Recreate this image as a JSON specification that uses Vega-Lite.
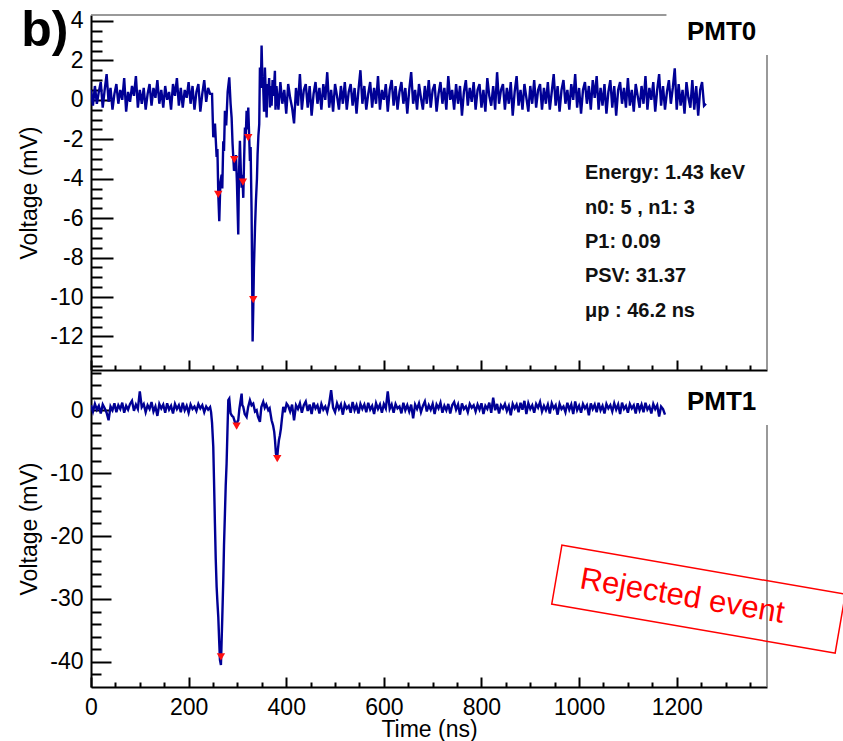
{
"$schema": "https://vega.github.io/schema/vega-lite/v6.json",
"padding": {"left": 18, "top": 5, "right": 0, "bottom": 0},
"background": "white",
"config": {
  "view": {"stroke": null},
  "font": "Liberation Sans",
  "axis": {"labelFont": "Liberation Sans", "titleFont": "Liberation Sans", "labelFontSize": 23, "titleFontSize": 23, "titleFontWeight": "normal", "labelColor": "black", "titleColor": "black", "domainColor": "black", "domainWidth": 2, "tickColor": "black", "tickWidth": 2, "grid": false, "labelOverlap": false, "labelFlush": false, "tickCount": 200}
},
"spacing": 0,
"bounds": "flush",
"datasets": {
  "pmt0": [
{"t":0,"v":0.5},{"t":4,"v":-0.3},{"t":8,"v":0.7},{"t":12,"v":-0.2},{"t":16,"v":0.4},{"t":20,"v":0.9},{"t":24,"v":-0.4},{"t":28,"v":0.5},{"t":32,"v":1.3},{"t":36,"v":-0.1},
{"t":40,"v":0.6},{"t":44,"v":-0.5},{"t":48,"v":0.3},{"t":52,"v":0.8},{"t":56,"v":-0.2},{"t":60,"v":0.5},{"t":64,"v":0.0},{"t":68,"v":1.1},{"t":72,"v":-0.6},{"t":76,"v":0.4},
{"t":80,"v":-0.1},{"t":84,"v":0.7},{"t":88,"v":0.2},{"t":92,"v":1.2},{"t":96,"v":-0.4},{"t":100,"v":0.5},{"t":104,"v":-0.2},{"t":108,"v":0.6},{"t":112,"v":-0.5},{"t":116,"v":0.3},
{"t":120,"v":0.8},{"t":124,"v":-0.3},{"t":128,"v":0.6},{"t":132,"v":0.1},{"t":136,"v":1.0},{"t":140,"v":-0.2},{"t":144,"v":0.5},{"t":148,"v":-0.4},{"t":152,"v":0.7},{"t":156,"v":0.0},
{"t":160,"v":0.4},{"t":164,"v":-0.5},{"t":168,"v":0.8},{"t":172,"v":0.2},{"t":176,"v":1.1},{"t":180,"v":-0.3},{"t":184,"v":0.6},{"t":188,"v":-0.4},{"t":192,"v":0.5},{"t":196,"v":0.1},
{"t":200,"v":0.9},{"t":204,"v":-0.2},{"t":208,"v":0.7},{"t":212,"v":-0.5},{"t":216,"v":0.4},{"t":220,"v":0.8},{"t":224,"v":-0.6},{"t":228,"v":0.3},{"t":232,"v":1.0},{"t":236,"v":-0.1},
{"t":240,"v":0.6},{"t":244,"v":0.3},
{"t":248,"v":0.3},{"t":250.5,"v":-1.9},{"t":254,"v":-1.2},{"t":257.4,"v":-2.9},{"t":259,"v":-2.5},{"t":260.8,"v":-4.8},{"t":262.8,"v":-6.15},{"t":265,"v":-4.2},{"t":267.6,"v":-3.8},{"t":269,"v":-4.5},{"t":271,"v":-2.1},{"t":272.5,"v":-2.6},{"t":274.4,"v":-0.56},{"t":277,"v":-1.3},{"t":280,"v":0.4},{"t":283.3,"v":1.14},{"t":286,"v":-0.2},{"t":288.1,"v":-0.9},{"t":290,"v":-2.2},{"t":291.5,"v":-2.9},{"t":293,"v":-3.6},{"t":294.9,"v":-3.44},{"t":297,"v":-2.8},{"t":299,"v":-4.2},{"t":301.7,"v":-6.83},{"t":303,"v":-4.0},{"t":305.1,"v":-2.08},{"t":307,"v":-3.6},{"t":308.6,"v":-4.46},{"t":310,"v":-3.8},{"t":312,"v":-4.97},{"t":313.5,"v":-3.2},{"t":315.4,"v":-1.41},{"t":317,"v":-1.9},{"t":318.8,"v":-0.56},{"t":320.5,"v":-1.5},{"t":322.2,"v":-0.39},{"t":324,"v":-1.8},{"t":325.6,"v":-3.1},{"t":327,"v":-2.4},{"t":329,"v":-5.64},{"t":330.2,"v":-9.0},{"t":331.1,"v":-12.25},{"t":332.5,"v":-10.5},{"t":333.8,"v":-8.52},{"t":336,"v":-6.5},{"t":337.9,"v":-5.13},{"t":340,"v":-4.0},{"t":341.3,"v":-2.76},{"t":343,"v":-1.8},{"t":344.7,"v":-1.24},{"t":346.1,"v":1.64},{"t":348,"v":0.6},{"t":349.5,"v":2.75},{"t":351,"v":1.2},{"t":352.9,"v":0.63},{"t":354.5,"v":-0.6},{"t":356.3,"v":1.64},{"t":358,"v":0.4},{"t":359.8,"v":-0.9},{"t":361.5,"v":0.8},{"t":363.2,"v":0.29},{"t":365,"v":1.1},{"t":366.6,"v":-0.39},{"t":368.5,"v":0.7},{"t":370,"v":-0.3},{"t":372,"v":1.0},{"t":374,"v":0.2},{"t":376.8,"v":1.47},{"t":378,"v":-0.5},
{"t":380,"v":0.7},{"t":384,"v":-0.5},{"t":388,"v":0.9},{"t":392,"v":-0.2},{"t":396,"v":0.5},{"t":400,"v":-0.7},{"t":404,"v":0.8},{"t":408,"v":0.1},{"t":412,"v":-0.4},{"t":416,"v":-1.2},
{"t":420,"v":0.6},{"t":424,"v":-0.3},{"t":428,"v":1.3},{"t":432,"v":-0.5},{"t":436,"v":0.5},{"t":440,"v":0.8},{"t":444,"v":-0.4},{"t":448,"v":0.7},{"t":452,"v":-0.8},{"t":456,"v":0.3},
{"t":460,"v":0.9},{"t":464,"v":-0.2},{"t":468,"v":0.6},{"t":472,"v":-0.5},{"t":476,"v":0.8},{"t":480,"v":0.0},{"t":484,"v":1.4},{"t":488,"v":-0.4},{"t":492,"v":0.5},{"t":496,"v":-0.6},
{"t":500,"v":0.8},{"t":504,"v":0.2},{"t":508,"v":-0.5},{"t":512,"v":0.7},{"t":516,"v":-0.2},{"t":520,"v":0.9},{"t":524,"v":-0.5},{"t":528,"v":0.4},{"t":532,"v":0.8},{"t":536,"v":-0.3},
{"t":540,"v":0.6},{"t":544,"v":-0.7},{"t":548,"v":0.5},{"t":552,"v":1.5},{"t":556,"v":-0.2},{"t":560,"v":0.7},{"t":564,"v":-0.5},{"t":568,"v":0.3},{"t":572,"v":0.9},{"t":576,"v":-0.4},
{"t":580,"v":0.6},{"t":584,"v":-0.2},{"t":588,"v":1.2},{"t":592,"v":-0.5},{"t":596,"v":0.5},{"t":600,"v":0.0},{"t":604,"v":0.8},{"t":608,"v":-0.6},{"t":612,"v":0.5},{"t":616,"v":1.0},
{"t":620,"v":-0.3},{"t":624,"v":0.7},{"t":628,"v":-0.5},{"t":632,"v":0.4},{"t":636,"v":0.9},{"t":640,"v":-0.2},{"t":644,"v":0.6},{"t":648,"v":-0.7},{"t":652,"v":0.5},{"t":656,"v":1.4},
{"t":660,"v":-0.2},{"t":664,"v":0.5},{"t":668,"v":-0.5},{"t":672,"v":0.8},{"t":676,"v":0.1},{"t":680,"v":-0.5},{"t":684,"v":0.7},{"t":688,"v":-0.2},{"t":692,"v":1.0},{"t":696,"v":-0.4},
{"t":700,"v":0.5},{"t":704,"v":0.8},{"t":708,"v":-0.6},{"t":712,"v":0.3},{"t":716,"v":0.9},{"t":720,"v":-0.2},{"t":724,"v":0.6},{"t":728,"v":-0.5},{"t":732,"v":1.2},{"t":736,"v":0.0},
{"t":740,"v":0.5},{"t":744,"v":-0.5},{"t":748,"v":0.8},{"t":752,"v":-0.2},{"t":756,"v":0.7},{"t":760,"v":-0.8},{"t":764,"v":0.4},{"t":768,"v":1.0},{"t":772,"v":-0.3},{"t":776,"v":0.6},
{"t":780,"v":-0.1},{"t":784,"v":0.9},{"t":788,"v":-0.5},{"t":792,"v":0.5},{"t":796,"v":0.8},{"t":800,"v":-0.4},{"t":804,"v":0.5},{"t":808,"v":-0.6},{"t":812,"v":1.1},{"t":816,"v":0.2},
{"t":820,"v":-0.3},{"t":824,"v":0.7},{"t":828,"v":-0.5},{"t":832,"v":1.4},{"t":836,"v":-0.2},{"t":840,"v":0.5},{"t":844,"v":0.8},{"t":848,"v":-0.5},{"t":852,"v":0.6},{"t":856,"v":-0.2},
{"t":860,"v":0.9},{"t":864,"v":-0.8},{"t":868,"v":0.4},{"t":872,"v":1.2},{"t":876,"v":-0.3},{"t":880,"v":0.5},{"t":884,"v":-0.5},{"t":888,"v":0.8},{"t":892,"v":0.1},{"t":896,"v":-0.6},
{"t":900,"v":0.7},{"t":904,"v":-0.2},{"t":908,"v":1.0},{"t":912,"v":-0.4},{"t":916,"v":0.5},{"t":920,"v":0.8},{"t":924,"v":-0.5},{"t":928,"v":0.6},{"t":932,"v":-0.2},{"t":936,"v":0.9},
{"t":940,"v":-0.5},{"t":944,"v":0.4},{"t":948,"v":1.3},{"t":952,"v":-0.3},{"t":956,"v":0.7},{"t":960,"v":-0.6},{"t":964,"v":0.5},{"t":968,"v":1.0},{"t":972,"v":-0.2},{"t":976,"v":0.5},
{"t":980,"v":-0.5},{"t":984,"v":0.8},{"t":988,"v":0.0},{"t":992,"v":1.3},{"t":996,"v":-0.4},{"t":1000,"v":0.6},{"t":1004,"v":-0.7},{"t":1008,"v":0.5},{"t":1012,"v":0.9},{"t":1016,"v":-0.2},
{"t":1020,"v":0.7},{"t":1024,"v":-0.5},{"t":1028,"v":1.0},{"t":1032,"v":0.1},{"t":1036,"v":1.2},{"t":1040,"v":-0.5},{"t":1044,"v":0.6},{"t":1048,"v":-0.3},{"t":1052,"v":0.8},{"t":1056,"v":-0.7},
{"t":1060,"v":0.4},{"t":1064,"v":1.0},{"t":1068,"v":-0.4},{"t":1072,"v":0.7},{"t":1076,"v":-0.8},{"t":1080,"v":0.5},{"t":1084,"v":0.9},{"t":1088,"v":-0.2},{"t":1092,"v":0.6},{"t":1096,"v":-0.4},
{"t":1100,"v":1.1},{"t":1104,"v":-0.3},{"t":1108,"v":0.5},{"t":1112,"v":-0.6},{"t":1116,"v":0.8},{"t":1120,"v":0.2},{"t":1124,"v":-0.4},{"t":1128,"v":0.7},{"t":1132,"v":-0.2},{"t":1136,"v":1.2},
{"t":1140,"v":-0.5},{"t":1144,"v":0.6},{"t":1148,"v":0.0},{"t":1152,"v":0.9},{"t":1156,"v":-0.6},{"t":1160,"v":0.5},{"t":1164,"v":1.3},{"t":1168,"v":-0.3},{"t":1172,"v":0.7},{"t":1176,"v":-0.5},
{"t":1180,"v":0.4},{"t":1184,"v":1.0},{"t":1188,"v":-0.2},{"t":1192,"v":0.6},{"t":1196,"v":1.6},{"t":1200,"v":-0.5},{"t":1204,"v":0.8},{"t":1208,"v":-0.3},{"t":1212,"v":0.5},{"t":1216,"v":-0.7},
{"t":1220,"v":0.9},{"t":1224,"v":0.1},{"t":1228,"v":-0.4},{"t":1232,"v":1.0},{"t":1236,"v":-0.5},{"t":1240,"v":0.7},{"t":1244,"v":-0.8},{"t":1248,"v":0.5},{"t":1252,"v":0.9},{"t":1256,"v":-0.3},
{"t":1260,"v":-0.2}
  ],
  "pmt1": [
{"t":0,"v":0.8},{"t":4,"v":-0.2},{"t":8,"v":1.0},{"t":12,"v":0.1},{"t":16,"v":0.7},{"t":20,"v":-0.5},{"t":24,"v":0.9},{"t":28,"v":0.3},{"t":32,"v":-0.4},{"t":36,"v":-1.6},
{"t":40,"v":0.6},{"t":44,"v":0.0},{"t":48,"v":1.1},{"t":52,"v":-0.3},{"t":56,"v":0.8},{"t":60,"v":0.2},{"t":64,"v":1.2},{"t":68,"v":-0.4},{"t":72,"v":0.7},{"t":76,"v":0.1},
{"t":80,"v":1.0},{"t":84,"v":1.5},{"t":88,"v":-0.1},{"t":92,"v":0.9},{"t":96,"v":0.2},{"t":100,"v":3.0},{"t":104,"v":0.5},{"t":108,"v":1.0},{"t":112,"v":-0.3},{"t":116,"v":0.8},
{"t":120,"v":0.2},{"t":124,"v":1.3},{"t":128,"v":-0.2},{"t":132,"v":0.6},{"t":136,"v":-0.9},{"t":140,"v":1.0},{"t":144,"v":0.3},{"t":148,"v":0.9},{"t":152,"v":-0.4},{"t":156,"v":1.1},
{"t":160,"v":0.1},{"t":164,"v":0.7},{"t":168,"v":-0.5},{"t":172,"v":1.0},{"t":176,"v":0.2},{"t":180,"v":0.8},{"t":184,"v":-0.3},{"t":188,"v":1.2},{"t":192,"v":0.0},{"t":196,"v":0.7},
{"t":200,"v":-0.4},{"t":204,"v":0.9},{"t":208,"v":0.2},{"t":212,"v":0.6},{"t":216,"v":-0.1},{"t":220,"v":1.0},{"t":224,"v":0.3},{"t":228,"v":0.8},{"t":232,"v":-0.3},{"t":236,"v":0.6},
{"t":240,"v":0.1},{"t":244,"v":0.5},
{"t":246,"v":-0.3},{"t":248,"v":-2.0},{"t":250.5,"v":-5.8},{"t":252,"v":-11.0},{"t":253.9,"v":-18.0},{"t":255.5,"v":-23.5},{"t":257.4,"v":-28.1},{"t":259,"v":-30.5},{"t":260.8,"v":-32.9},{"t":262.5,"v":-36.5},{"t":264.2,"v":-39.7},{"t":266.2,"v":-40.5},{"t":267.5,"v":-37.0},{"t":269,"v":-32.9},{"t":271,"v":-27.0},{"t":272.5,"v":-21.5},{"t":274.4,"v":-16.4},{"t":276,"v":-12.0},{"t":277.8,"v":-8.5},{"t":279.5,"v":-3.5},{"t":281.3,"v":1.6},{"t":283.3,"v":1.85},{"t":286,"v":-0.5},{"t":289,"v":-0.9},{"t":291.5,"v":-1.06},{"t":295,"v":-1.9},{"t":298.3,"v":-2.38},{"t":300,"v":-1.8},{"t":301.7,"v":-1.59},{"t":304,"v":0.2},{"t":306,"v":1.3},{"t":308.6,"v":2.65},{"t":310,"v":0.8},{"t":312,"v":0.53},{"t":315,"v":-0.6},{"t":318.8,"v":-1.06},{"t":322,"v":0.5},{"t":325.6,"v":1.59},{"t":329,"v":0.8},{"t":332.4,"v":1.06},{"t":336,"v":-0.2},{"t":339.3,"v":0.0},{"t":342,"v":-1.0},{"t":346.1,"v":-1.85},{"t":349,"v":0.5},{"t":352.9,"v":1.33},{"t":356,"v":0.4},{"t":359,"v":0.9},{"t":363.2,"v":0.0},{"t":366,"v":0.3},{"t":370,"v":-1.59},{"t":373,"v":-2.4},{"t":375.4,"v":-3.44},{"t":377,"v":-4.8},{"t":378.9,"v":-6.89},{"t":380.5,"v":-7.3},{"t":381.6,"v":-7.42},{"t":383,"v":-6.2},{"t":385,"v":-4.77},{"t":387,"v":-4.0},{"t":389.1,"v":-2.91},{"t":391,"v":-1.5},{"t":393.9,"v":0.53},{"t":397,"v":-0.3},{"t":400.7,"v":1.06},
{"t":404,"v":0.7},{"t":408,"v":-0.2},{"t":412,"v":0.9},{"t":416,"v":-1.6},{"t":420,"v":0.8},{"t":424,"v":0.2},{"t":428,"v":1.1},{"t":432,"v":-0.4},{"t":436,"v":0.8},{"t":440,"v":1.4},
{"t":444,"v":-0.1},{"t":448,"v":0.9},{"t":452,"v":-0.6},{"t":456,"v":1.2},{"t":460,"v":0.3},{"t":464,"v":0.8},{"t":468,"v":-0.5},{"t":472,"v":1.0},{"t":476,"v":0.1},{"t":480,"v":0.6},
{"t":484,"v":-0.3},{"t":488,"v":1.1},{"t":492,"v":3.2},{"t":496,"v":0.4},{"t":500,"v":-0.3},{"t":504,"v":1.1},{"t":508,"v":0.2},{"t":512,"v":0.9},{"t":516,"v":-0.7},{"t":520,"v":1.0},
{"t":524,"v":0.3},{"t":528,"v":0.7},{"t":532,"v":-0.4},{"t":536,"v":1.3},{"t":540,"v":0.0},{"t":544,"v":0.8},{"t":548,"v":-0.5},{"t":552,"v":1.0},{"t":556,"v":0.2},{"t":560,"v":0.9},
{"t":564,"v":-0.3},{"t":568,"v":1.2},{"t":572,"v":0.1},{"t":576,"v":0.7},{"t":580,"v":-0.6},{"t":584,"v":1.1},{"t":588,"v":0.2},{"t":592,"v":0.9},{"t":596,"v":-0.4},{"t":600,"v":1.0},
{"t":604,"v":0.3},{"t":608,"v":3.0},{"t":612,"v":0.2},{"t":616,"v":0.9},{"t":620,"v":-0.4},{"t":624,"v":1.0},{"t":628,"v":0.3},{"t":632,"v":0.6},{"t":636,"v":-0.5},{"t":640,"v":1.2},
{"t":644,"v":0.0},{"t":648,"v":0.8},{"t":652,"v":-0.2},{"t":656,"v":0.9},{"t":660,"v":-1.3},{"t":664,"v":0.9},{"t":668,"v":0.2},{"t":672,"v":1.1},{"t":676,"v":-0.3},{"t":680,"v":0.7},
{"t":684,"v":1.4},{"t":688,"v":-0.2},{"t":692,"v":0.8},{"t":696,"v":0.1},{"t":700,"v":1.0},{"t":704,"v":-0.6},{"t":708,"v":0.9},{"t":712,"v":0.3},{"t":716,"v":1.2},{"t":720,"v":-0.4},
{"t":724,"v":0.7},{"t":728,"v":0.0},{"t":732,"v":1.0},{"t":736,"v":-0.5},{"t":740,"v":0.8},{"t":744,"v":1.3},{"t":748,"v":0.1},{"t":752,"v":0.9},{"t":756,"v":-0.7},{"t":760,"v":1.1},
{"t":764,"v":0.2},{"t":768,"v":0.6},{"t":772,"v":-0.3},{"t":776,"v":1.0},{"t":780,"v":0.4},{"t":784,"v":0.8},{"t":788,"v":-0.2},{"t":792,"v":0.9},{"t":796,"v":0.1},{"t":800,"v":1.1},
{"t":804,"v":-0.6},{"t":808,"v":0.7},{"t":812,"v":0.2},{"t":816,"v":1.2},{"t":820,"v":-0.4},{"t":824,"v":2.0},{"t":828,"v":0.0},{"t":832,"v":1.0},{"t":836,"v":-0.5},{"t":840,"v":0.8},
{"t":844,"v":0.3},{"t":848,"v":1.0},{"t":852,"v":-0.1},{"t":856,"v":0.7},{"t":860,"v":-0.8},{"t":864,"v":1.0},{"t":868,"v":0.3},{"t":872,"v":0.9},{"t":876,"v":-0.3},{"t":880,"v":1.2},
{"t":884,"v":0.1},{"t":888,"v":1.5},{"t":892,"v":-0.6},{"t":896,"v":1.1},{"t":900,"v":0.2},{"t":904,"v":0.8},{"t":908,"v":-0.4},{"t":912,"v":1.0},{"t":916,"v":0.4},{"t":920,"v":1.3},
{"t":924,"v":-0.2},{"t":928,"v":0.7},{"t":932,"v":0.0},{"t":936,"v":0.9},{"t":940,"v":-0.5},{"t":944,"v":1.1},{"t":948,"v":0.3},{"t":952,"v":0.8},{"t":956,"v":-0.7},{"t":960,"v":1.0},
{"t":964,"v":0.2},{"t":968,"v":0.6},{"t":972,"v":-0.3},{"t":976,"v":1.2},{"t":980,"v":0.1},{"t":984,"v":0.9},{"t":988,"v":-0.6},{"t":992,"v":1.4},{"t":996,"v":0.0},{"t":1000,"v":0.7},
{"t":1004,"v":-0.4},{"t":1008,"v":1.0},{"t":1012,"v":0.3},{"t":1016,"v":0.8},{"t":1020,"v":-0.8},{"t":1024,"v":1.1},{"t":1028,"v":0.2},{"t":1032,"v":0.9},{"t":1036,"v":-0.3},{"t":1040,"v":1.2},
{"t":1044,"v":0.0},{"t":1048,"v":0.7},{"t":1052,"v":-0.5},{"t":1056,"v":1.0},{"t":1060,"v":0.3},{"t":1064,"v":0.8},{"t":1068,"v":-0.2},{"t":1072,"v":1.1},{"t":1076,"v":0.1},{"t":1080,"v":0.9},
{"t":1084,"v":-0.6},{"t":1088,"v":1.2},{"t":1092,"v":0.2},{"t":1096,"v":0.7},{"t":1100,"v":-0.4},{"t":1104,"v":1.0},{"t":1108,"v":0.3},{"t":1112,"v":0.8},{"t":1116,"v":-0.5},{"t":1120,"v":1.1},
{"t":1124,"v":0.0},{"t":1128,"v":0.9},{"t":1132,"v":-0.3},{"t":1136,"v":1.2},{"t":1140,"v":0.1},{"t":1144,"v":0.6},{"t":1148,"v":-0.5},{"t":1152,"v":1.0},{"t":1156,"v":0.2},{"t":1160,"v":0.8},
{"t":1164,"v":-1.0},{"t":1168,"v":0.6},{"t":1172,"v":0.2},{"t":1176,"v":-0.7}
  ],
  "peaks0": [{"t":260.7,"v":-4.79},{"t":293.5,"v":-3.03},{"t":311.3,"v":-4.17},{"t":322.2,"v":-1.92},{"t":332.4,"v":-10.13}],
  "peaks1": [{"t":266.2,"v":-39.2},{"t":298.3,"v":-2.54},{"t":381.6,"v":-7.68}],
  "note": [{"n":1}]
},
"vconcat": [
  {
    "width": 676, "height": 355,
    "layer": [
      {
        "data": {"name": "pmt0"},
        "mark": {"type": "line", "color": "#000095", "strokeWidth": 2.4, "clip": true},
        "encoding": {
          "x": {"field": "t", "type": "quantitative", "scale": {"domain": [0, 1385], "nice": false, "zero": false},
            "axis": {"values": [0,50,100,150,200,250,300,350,400,450,500,550,600,650,700,750,800,850,900,950,1000,1050,1100,1150,1200,1250,1300,1350], "labels": false, "title": null, "labelOverlap": false, "tickCount": 200,
              "tickSize": {"condition": {"test": "datum.value % 200 === 0", "value": -10}, "value": -5}}},
          "y": {"field": "v", "type": "quantitative", "scale": {"domain": [-13.7, 4.3], "nice": false, "zero": false},
            "axis": {"values": [-13.5,-13,-12.5,-12,-11.5,-11,-10.5,-10,-9.5,-9,-8.5,-8,-7.5,-7,-6.5,-6,-5.5,-5,-4.5,-4,-3.5,-3,-2.5,-2,-1.5,-1,-0.5,0,0.5,1,1.5,2,2.5,3,3.5,4],
              "labelExpr": "datum.value % 2 === 0 ? '' + datum.value : ''", "labelOverlap": false, "tickCount": 200,
              "tickSize": {"condition": {"test": "datum.value % 2 === 0", "value": -22}, "value": -11},
              "labelPadding": 30, "title": "Voltage (mV)", "titlePadding": 8}}
        }
      },
      {
        "data": {"name": "peaks0"},
        "mark": {"type": "point", "shape": "triangle-down", "filled": true, "color": "#ff1010", "size": 70, "opacity": 1},
        "encoding": {"x": {"field": "t", "type": "quantitative"}, "y": {"field": "v", "type": "quantitative"}}
      },
      {
        "data": {"name": "note"},
        "mark": {"type": "rule", "color": "#777777", "strokeWidth": 1.5},
        "encoding": {"x": {"datum": 0}, "x2": {"datum": 1179}, "y": {"datum": 4.3}}
      },
      {
        "data": {"name": "note"},
        "mark": {"type": "rule", "color": "#777777", "strokeWidth": 1.5},
        "encoding": {"x": {"datum": 1385}, "y": {"datum": 2.27}, "y2": {"datum": -13.7}}
      },
      {
        "data": {"name": "note"},
        "mark": {"type": "text", "text": "b)", "font": "Liberation Sans", "fontWeight": "bold", "fontSize": 50, "align": "left", "baseline": "alphabetic", "color": "black"},
        "encoding": {"x": {"datum": -143}, "y": {"datum": 2.73}}
      },
      {
        "data": {"name": "note"},
        "mark": {"type": "text", "text": "PMT0", "font": "Liberation Sans", "fontWeight": "bold", "fontSize": 26, "align": "right", "baseline": "alphabetic", "color": "black"},
        "encoding": {"x": {"datum": 1363}, "y": {"datum": 3.03}}
      },
      {
        "data": {"name": "note"},
        "mark": {"type": "text", "text": ["Energy: 1.43 keV", "n0: 5 , n1: 3", "P1: 0.09", "PSV: 31.37", "μp : 46.2 ns"], "font": "Liberation Sans", "fontWeight": "bold", "fontSize": 20, "lineHeight": 34.4, "align": "left", "baseline": "alphabetic", "color": "#111111"},
        "encoding": {"x": {"datum": 1012}, "y": {"datum": -4.03}}
      }
    ]
  },
  {
    "width": 676, "height": 317,
    "layer": [
      {
        "data": {"name": "pmt1"},
        "mark": {"type": "line", "color": "#000095", "strokeWidth": 2.4, "clip": true},
        "encoding": {
          "x": {"field": "t", "type": "quantitative", "scale": {"domain": [0, 1385], "nice": false, "zero": false},
            "axis": {"values": [0,50,100,150,200,250,300,350,400,450,500,550,600,650,700,750,800,850,900,950,1000,1050,1100,1150,1200,1250,1300,1350],
              "labelExpr": "datum.value % 200 === 0 ? '' + datum.value : ''", "labelOverlap": false, "tickCount": 200,
              "tickSize": {"condition": {"test": "datum.value % 200 === 0", "value": -10}, "value": -5},
              "labelPadding": 19, "title": "Time (ns)", "titlePadding": -6}},
          "y": {"field": "v", "type": "quantitative", "scale": {"domain": [-44, 6.4], "nice": false, "zero": false},
            "axis": {"values": [-42,-40,-38,-36,-34,-32,-30,-28,-26,-24,-22,-20,-18,-16,-14,-12,-10,-8,-6,-4,-2,0,2,4,6],
              "labelExpr": "datum.value % 10 === 0 ? '' + datum.value : ''", "labelOverlap": false, "tickCount": 200,
              "tickSize": {"condition": {"test": "datum.value % 10 === 0", "value": -20}, "value": -10},
              "labelPadding": 28, "title": "Voltage (mV)", "titlePadding": 8}}
        }
      },
      {
        "data": {"name": "peaks1"},
        "mark": {"type": "point", "shape": "triangle-down", "filled": true, "color": "#ff1010", "size": 70, "opacity": 1},
        "encoding": {"x": {"field": "t", "type": "quantitative"}, "y": {"field": "v", "type": "quantitative"}}
      },
      {
        "data": {"name": "note"},
        "mark": {"type": "rule", "color": "#777777", "strokeWidth": 1.5},
        "encoding": {"x": {"datum": 1385}, "y": {"datum": -2.34}, "y2": {"datum": -44}}
      },
      {
        "data": {"name": "note"},
        "mark": {"type": "text", "text": "PMT1", "font": "Liberation Sans", "fontWeight": "bold", "fontSize": 26, "align": "right", "baseline": "alphabetic", "color": "black"},
        "encoding": {"x": {"datum": 1363}, "y": {"datum": 0.05}}
      },
      {
        "data": {"name": "note"},
        "mark": {"type": "point", "shape": "M-1,-0.2076L1,-0.2076L1,0.2076L-1,0.2076Z", "size": 82714, "filled": false, "stroke": "#ff0000", "strokeWidth": 1.5, "angle": 9.8, "opacity": 1},
        "encoding": {"x": {"datum": 1244.7}, "y": {"datum": -30.03}}
      },
      {
        "data": {"name": "note"},
        "mark": {"type": "text", "text": "Rejected event", "font": "Liberation Sans", "fontSize": 31, "align": "center", "baseline": "middle", "angle": 9.8, "color": "#ff0000"},
        "encoding": {"x": {"datum": 1211}, "y": {"datum": -29.63}}
      }
    ]
  }
]
}
